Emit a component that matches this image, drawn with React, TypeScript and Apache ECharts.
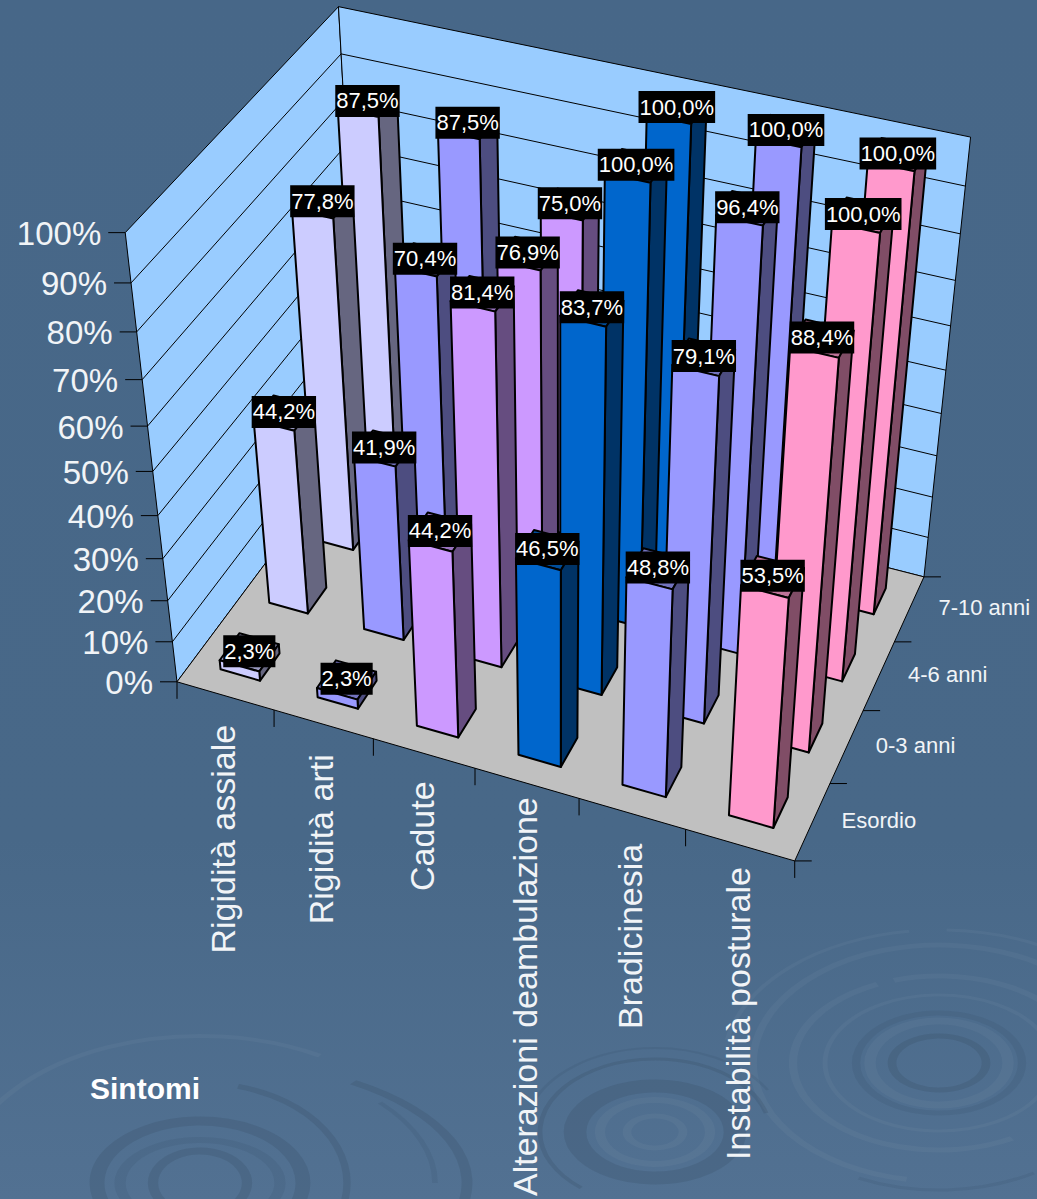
import React, { useEffect, useRef } from "react";
import * as echarts from "echarts";

const categories = [
  "Rigidità assiale",
  "Rigidità arti",
  "Cadute",
  "Alterazioni deambulazione",
  "Bradicinesia",
  "Instabilità posturale",
];
const depthLabels = ["Esordio", "0-3 anni", "4-6 anni", "7-10 anni"];
const esordio = [2.3, 2.3, 44.2, 46.5, 48.8, 53.5];
const anni0to3 = [44.2, 41.9, 81.4, 83.7, 79.1, 88.4];
const anni4to6 = [77.8, 70.4, 76.9, 100, 96.4, 100];
const anni7to10 = [87.5, 87.5, 75.0, 100, 100, 100];
const valueTicks = [0, 10, 20, 30, 40, 50, 60, 70, 80, 90, 100];
const categoryColors = ["#CCCCFF", "#9999FF", "#CC99FF", "#0066CC", "#9999FF", "#FF99CC"];
const rows = [esordio, anni0to3, anni4to6, anni7to10];

const FONT = '"Liberation Sans", Arial, sans-serif';
const TEXT_COLOR = "#F1F4F7";
const BAR_WIDTH = 0.41;
const BAR_DEPTH = 0.4;
// Long captions sit higher under their tick so that they stay on the page.
const captionLift = [3, 2, 4, 18, 2, 10];

// Known spots of the plot box: [along categories, along depth, height] -> screen x, y.
const anchors: number[][] = [
  [0, 0, 0, 178, 682],
  [1, 0, 0, 795, 860],
  [1, 1, 0, 923, 577],
  [0, 0, 1, 125, 233],
  [0, 1, 1, 339, 7],
  [1, 1, 1, 971, 137],
  [0, 0, 0.9, 131, 283],
  [1, 1, 0.9, 965, 187],
  [1, 1, 0.8, 960, 233],
  [0, 1, 0.9, 341, 53],
  [1, 0.25, 0, 832, 784],
  [1, 0.5, 0, 863, 711],
  [1, 0.75, 0, 895, 642],
  [1 / 6, 0, 0, 273, 710],
  [5 / 6, 0, 0, 684, 829],
];

// Least-squares fit of a perspective camera to the anchors.
function fitCamera(points: number[][]): number[] {
  const n = 11;
  const a: number[][] = Array.from({ length: n }, () => new Array(n + 1).fill(0));
  const addRow = (row: number[], rhs: number) => {
    for (let i = 0; i < n; i++) {
      for (let j = 0; j < n; j++) a[i][j] += row[i] * row[j];
      a[i][n] += row[i] * rhs;
    }
  };
  for (const [u, v, h, px, py] of points) {
    const x = px / 1000;
    const y = py / 1000;
    addRow([u, v, h, 1, 0, 0, 0, 0, -x * u, -x * v, -x * h], x);
    addRow([0, 0, 0, 0, u, v, h, 1, -y * u, -y * v, -y * h], y);
  }
  for (let c = 0; c < n; c++) {
    let pivot = c;
    for (let r = c + 1; r < n; r++) if (Math.abs(a[r][c]) > Math.abs(a[pivot][c])) pivot = r;
    [a[c], a[pivot]] = [a[pivot], a[c]];
    for (let r = 0; r < n; r++) {
      if (r === c) continue;
      const f = a[r][c] / a[c][c];
      for (let k = c; k <= n; k++) a[r][k] -= f * a[c][k];
    }
  }
  return a.map((row, i) => row[n] / row[i]);
}

const cam = fitCamera(anchors);

function project(u: number, v: number, h: number): number[] {
  const w = cam[8] * u + cam[9] * v + cam[10] * h + 1;
  return [
    (1000 * (cam[0] * u + cam[1] * v + cam[2] * h + cam[3])) / w,
    (1000 * (cam[4] * u + cam[5] * v + cam[6] * h + cam[7])) / w,
  ];
}

function shade(hex: string, k: number): string {
  const n = parseInt(hex.slice(1), 16);
  const c = [(n >> 16) & 255, (n >> 8) & 255, n & 255].map((x) => Math.round(x * k));
  return `rgb(${c[0]},${c[1]},${c[2]})`;
}

const poly = (points: number[][], fill: string, lineWidth: number) => ({
  type: "polygon",
  shape: { points },
  style: { fill, stroke: "#000", lineWidth, lineJoin: "round" },
});

const seg = (a: number[], b: number[], lineWidth = 1) => ({
  type: "line",
  shape: { x1: a[0], y1: a[1], x2: b[0], y2: b[1] },
  style: { stroke: "#000", lineWidth },
});

const text = (
  str: string,
  x: number,
  y: number,
  fontSize: number,
  align: string,
  extra: Record<string, unknown> = {},
  rotation = 0,
) => ({
  type: "text",
  x,
  y,
  rotation,
  style: {
    text: str,
    fill: TEXT_COLOR,
    fontFamily: FONT,
    fontSize,
    align,
    verticalAlign: "middle",
    ...extra,
  },
});

// Walls, floor, grid lines, ticks and axis captions.
function renderFrame() {
  const children: any[] = [];
  const wallColor = "#99CCFF";
  children.push(
    poly([project(0, 0, 0), project(0, 1, 0), project(0, 1, 1), project(0, 0, 1)], wallColor, 1),
    poly([project(0, 1, 0), project(1, 1, 0), project(1, 1, 1), project(0, 1, 1)], wallColor, 1),
    poly([project(0, 0, 0), project(1, 0, 0), project(1, 1, 0), project(0, 1, 0)], "#C0C0C0", 1),
  );
  valueTicks.forEach((t) => {
    const h = t / 100;
    const a = project(0, 0, h);
    if (t > 0 && t < 100) {
      children.push(seg(a, project(0, 1, h)), seg(project(0, 1, h), project(1, 1, h)));
    }
    children.push(seg(a, [a[0] - 17, a[1]]));
    children.push(text(`${t}%`, a[0] - 24, a[1] + 1, 33, "right"));
  });
  categories.forEach((name, i) => {
    const a = project(i / 6, 0, 0);
    children.push(seg(a, [a[0], a[1] + 17]));
    const mid = project((i + 0.5) / 6, 0, 0);
    children.push(text(name, mid[0] - 2, mid[1] + 32 - captionLift[i], 34, "right", {}, Math.PI / 2));
  });
  const end = project(1, 0, 0);
  children.push(seg(end, [end[0], end[1] + 17]));
  depthLabels.forEach((name, j) => {
    const a = project(1, j / 4, 0);
    children.push(seg(a, [a[0] + 17, a[1]]));
    const mid = project(1, (j + 0.5) / 4, 0);
    children.push(text(name, mid[0] + 29, mid[1] - 1, 22, "left"));
  });
  const back = project(1, 1, 0);
  children.push(seg(back, [back[0] + 17, back[1]]));
  children.push(text("Sintomi", 90, 1088, 30, "left", { fontWeight: "bold", fill: "#FFFFFF" }));
  return { type: "group", children };
}

// One block with its front, right and top faces, ordered back to front by the data.
function renderBar(_params: any, api: any) {
  const i = api.value(0);
  const j = api.value(1);
  const h = api.value(2) / 100;
  const color = categoryColors[i];
  const u0 = (i + 0.5 - BAR_WIDTH / 2) / 6;
  const u1 = (i + 0.5 + BAR_WIDTH / 2) / 6;
  const v0 = (j + 0.5 - BAR_DEPTH / 2) / 4;
  const v1 = (j + 0.5 + BAR_DEPTH / 2) / 4;
  return {
    type: "group",
    children: [
      poly([project(u0, v0, h), project(u1, v0, h), project(u1, v1, h), project(u0, v1, h)], shade(color, 0.75), 2),
      poly([project(u1, v0, 0), project(u1, v1, 0), project(u1, v1, h), project(u1, v0, h)], shade(color, 0.5), 2),
      poly([project(u0, v0, 0), project(u1, v0, 0), project(u1, v0, h), project(u0, v0, h)], color, 2),
    ],
  };
}

function renderValueLabel(_params: any, api: any) {
  const i = api.value(0);
  const j = api.value(1);
  const value = api.value(2);
  const p = project((i + 0.5) / 6, (j + 0.5) / 4, value / 100);
  return text(`${value.toFixed(1).replace(".", ",")}%`, p[0], p[1] - 1, 22, "center", {
    fill: "#FFFFFF",
    backgroundColor: "#000000",
    padding: [0, 1],
    lineHeight: 32,
  });
}

const barData: number[][] = [];
for (let j = rows.length - 1; j >= 0; j--) {
  rows[j].forEach((value, i) => barData.push([i, j, value]));
}

// Faint ripple rings of the backdrop: cx, cy, rx, ry, stroke width, tone, start and end angle.
const DARK = "rgba(50,70,90,0.2)";
const SOFT = "rgba(50,70,90,0.13)";
const LIGHT = "rgba(255,255,255,0.035)";
const ripples: [number, number, number, number, number, string, number, number][] = [
  [939, 1063, 47, 27, 5, DARK, 0, 360],
  [939, 1063, 69, 42, 7, LIGHT, 0, 360],
  [939, 1063, 83, 50, 5, SOFT, 0, 360],
  [939, 1063, 114, 68, 3, LIGHT, 0, 360],
  [939, 1063, 146, 87, 5, LIGHT, 60, 245],
  [939, 1063, 146, 87, 5, LIGHT, 252, 335],
  [939, 1063, 186, 118, 5, LIGHT, 100, 360],
  [939, 1063, 215, 133, 3, LIGHT, 190, 262],
  [939, 1063, 215, 133, 3, LIGHT, 272, 340],
  [939, 1063, 190, 127, 3, SOFT, 60, 115],
  [655, 1132, 28, 16, 5, LIGHT, 0, 360],
  [655, 1132, 55, 32, 6, LIGHT, 0, 360],
  [655, 1132, 80, 46, 13, DARK, 0, 360],
  [655, 1132, 115, 73, 3, DARK, 130, 345],
  [655, 1132, 130, 84, 2, SOFT, 200, 330],
  [200, 1183, 47, 32, 7, DARK, 0, 360],
  [200, 1183, 80, 43, 6, SOFT, 0, 360],
  [200, 1183, 103, 62, 9, DARK, 0, 360],
  [200, 1183, 147, 100, 5, DARK, 285, 370],
  [200, 1183, 267, 123, 5, DARK, 305, 375],
  [200, 1183, 240, 147, 4, LIGHT, 195, 300],
  [200, 1183, 235, 125, 3, SOFT, 320, 360],
];

export default function App() {
  const ref = useRef<HTMLDivElement>(null);
  useEffect(() => {
    const chart = echarts.init(ref.current!, undefined, { renderer: "svg" });
    chart.setOption({
      animation: false,
      backgroundColor: "transparent",
      graphic: {
        elements: ripples.map(([x, y, rx, ry, lineWidth, stroke, from, to]) => ({
          type: "arc",
          silent: true,
          x,
          y,
          scaleX: rx / ry,
          scaleY: 1,
          shape: {
            cx: 0,
            cy: 0,
            r: ry,
            startAngle: (from * Math.PI) / 180,
            endAngle: (to * Math.PI) / 180,
            clockwise: true,
          },
          style: { fill: "none", stroke, lineWidth },
        })),
      },
      series: [
        {
          type: "custom",
          coordinateSystem: "none",
          silent: true,
          data: [[0]],
          renderItem: renderFrame,
        },
        {
          type: "custom",
          coordinateSystem: "none",
          silent: true,
          data: barData,
          encode: { value: [0, 1, 2] },
          renderItem: renderBar,
        },
        {
          type: "custom",
          coordinateSystem: "none",
          silent: true,
          data: barData,
          encode: { value: [0, 1, 2] },
          renderItem: renderValueLabel,
        },
      ],
    });
    return () => chart.dispose();
  }, []);
  return (
    <div
      style={{
        position: "absolute",
        left: 0,
        top: 0,
        width: 1037,
        height: 1199,
        background: "linear-gradient(180deg, #476788 0%, #486888 70%, #527192 100%)",
      }}
    >
      <div ref={ref} style={{ width: 1037, height: 1199 }} />
    </div>
  );
}
